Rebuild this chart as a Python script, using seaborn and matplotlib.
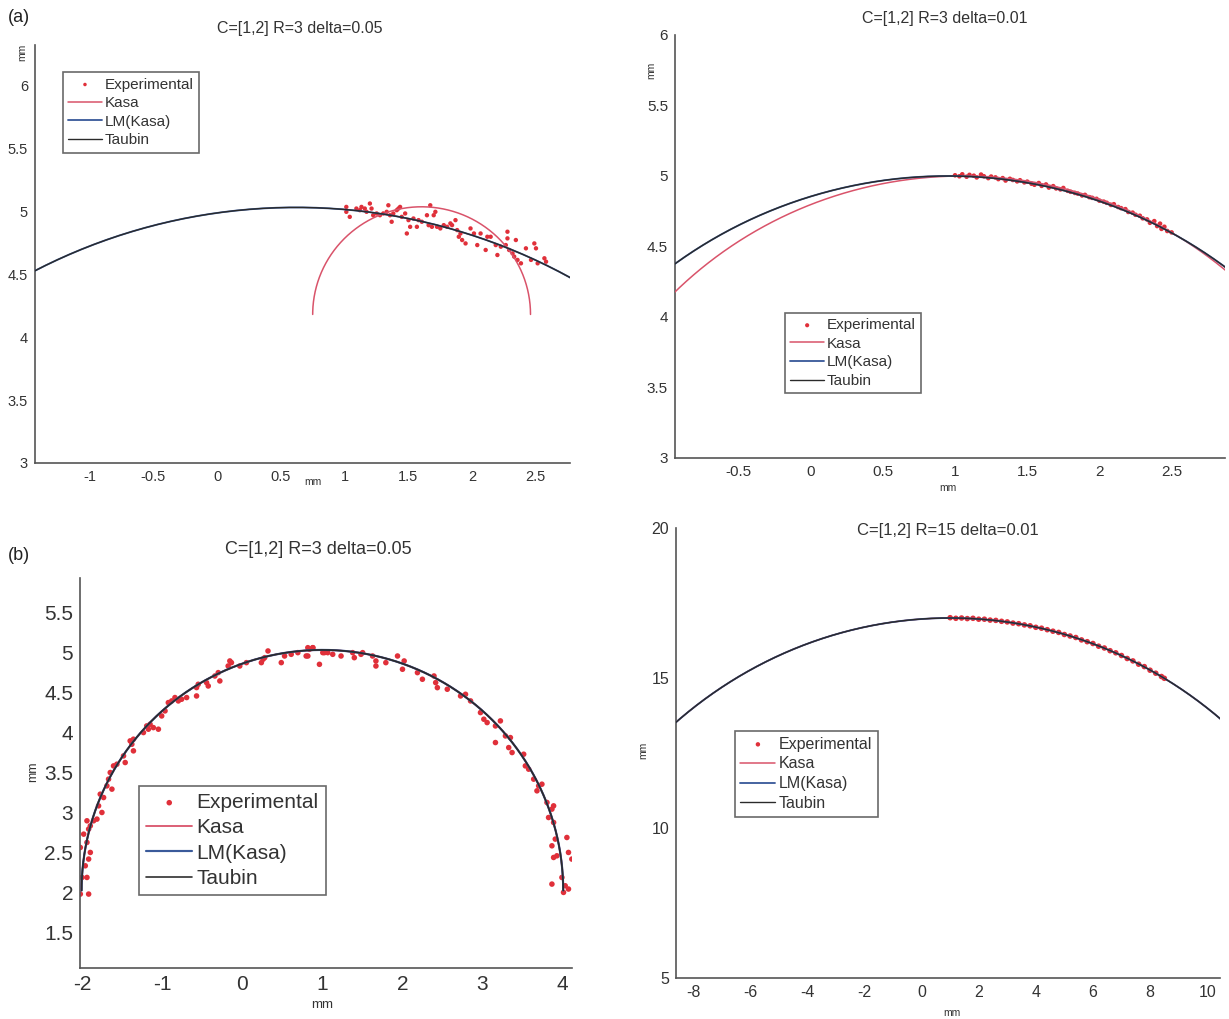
import numpy as np
import pandas as pd
import matplotlib
matplotlib.use("Agg")
import matplotlib.pyplot as plt
from matplotlib.ticker import FormatStrFormatter
import seaborn as sns

# ---------------- data ----------------
TITLES = ["C=[1,2] R=3 delta=0.05", "C=[1,2] R=3 delta=0.01",
          "C=[1,2] R=3 delta=0.05", "C=[1,2] R=15 delta=0.01"]
SERIES = ["Experimental", "Kasa", "LM(Kasa)", "Taubin"]

# panel (a) left: experimental points
p1_x = [1.014, 1.014, 1.041, 1.093, 1.120, 1.133, 1.159, 1.173, 1.199, 1.212, 1.225, 1.252,
        1.278, 1.304, 1.331, 1.344, 1.357, 1.370, 1.383, 1.410, 1.423, 1.436, 1.449, 1.476,
        1.489, 1.502, 1.515, 1.541, 1.568, 1.581, 1.607, 1.647, 1.660, 1.673, 1.686, 1.700,
        1.713, 1.726, 1.752, 1.779, 1.805, 1.831, 1.844, 1.871, 1.884, 1.897, 1.910, 1.923,
        1.950, 1.989, 2.016, 2.042, 2.068, 2.108, 2.121, 2.147, 2.187, 2.200, 2.227, 2.266,
        2.279, 2.279, 2.292, 2.319, 2.332, 2.345, 2.358, 2.385, 2.424, 2.464, 2.490, 2.503,
        2.516, 2.569, 2.582]
p1_y = [5.034, 4.995, 4.955, 5.021, 5.008, 5.034, 5.021, 4.995, 5.061, 5.021, 4.968, 4.982,
        4.968, 4.982, 4.995, 5.047, 4.968, 4.916, 4.982, 5.008, 5.021, 5.034, 4.955, 4.982,
        4.823, 4.929, 4.876, 4.942, 4.876, 4.929, 4.916, 4.968, 4.889, 5.047, 4.876, 4.968,
        4.995, 4.876, 4.863, 4.889, 4.876, 4.903, 4.889, 4.929, 4.850, 4.797, 4.823, 4.771,
        4.744, 4.863, 4.823, 4.731, 4.823, 4.692, 4.797, 4.797, 4.731, 4.652, 4.718, 4.731,
        4.837, 4.784, 4.692, 4.665, 4.639, 4.771, 4.613, 4.586, 4.705, 4.613, 4.744, 4.705,
        4.586, 4.626, 4.599]

# panel (a) right
p2_x = [1.00, 1.03, 1.05, 1.08, 1.10, 1.13, 1.15, 1.18, 1.20, 1.23, 1.25, 1.28, 1.30, 1.33,
        1.35, 1.38, 1.40, 1.43, 1.45, 1.48, 1.50, 1.53, 1.55, 1.58, 1.60, 1.63, 1.65, 1.68,
        1.70, 1.73, 1.75, 1.78, 1.80, 1.83, 1.85, 1.88, 1.90, 1.93, 1.95, 1.98, 2.00, 2.03,
        2.05, 2.08, 2.10, 2.13, 2.15, 2.18, 2.20, 2.23, 2.25, 2.28, 2.30, 2.33, 2.35, 2.38,
        2.40, 2.42, 2.43, 2.45, 2.47, 2.50]
p2_y = [5.005, 4.998, 5.012, 4.995, 5.008, 5.002, 4.990, 5.010, 4.998, 4.985, 4.996, 4.990,
        4.978, 4.985, 4.968, 4.980, 4.972, 4.962, 4.970, 4.955, 4.960, 4.945, 4.938, 4.950,
        4.930, 4.940, 4.918, 4.928, 4.912, 4.905, 4.915, 4.895, 4.888, 4.880, 4.875, 4.862,
        4.866, 4.850, 4.845, 4.838, 4.825, 4.818, 4.810, 4.795, 4.800, 4.780, 4.772, 4.765,
        4.745, 4.740, 4.725, 4.718, 4.700, 4.692, 4.668, 4.680, 4.645, 4.662, 4.625, 4.640,
        4.610, 4.600]

# panel (b) left
p3_x = [-2.026, -1.922, -2.005, -1.943, -1.964, -1.922, -1.901, -2.026, -1.943, -1.984,
        -1.922, -1.901, -1.860, -1.818, -1.943, -1.756, -1.798, -1.777, -1.735, -1.694,
        -1.673, -1.631, -1.652, -1.611, -1.569, -1.465, -1.486, -1.382, -1.403, -1.362,
        -1.362, -1.237, -1.196, -1.154, -1.175, -1.113, -1.050, -1.009, -0.967, -0.926,
        -0.884, -0.843, -0.801, -0.760, -0.697, -0.573, -0.552, -0.573, -0.427, -0.448,
        -0.344, -0.302, -0.282, -0.178, -0.137, -0.157, -0.033, 0.050, 0.237, 0.258,
        0.278, 0.320, 0.486, 0.527, 0.610, 0.693, 0.797, 0.838, 0.880, 0.963, 1.005, 1.067,
        0.818, 0.880, 0.818, 1.025, 1.129, 1.233, 1.378, 1.399, 1.482, 1.503, 1.627, 1.669,
        1.669, 1.793, 1.939, 2.022, 2.001, 2.188, 2.250, 2.395, 2.416, 2.437, 2.561, 2.727,
        2.789, 2.852, 2.976, 3.018, 3.059, 3.163, 3.225, 3.288, 3.163, 3.350, 3.329, 3.371,
        3.516, 3.537, 3.578, 3.641, 3.703, 3.682, 3.744, 3.807, 3.869, 3.890, 3.827, 3.890,
        3.911, 3.869, 4.056, 3.931, 3.890, 4.076, 4.118, 3.994, 4.035, 3.869, 4.076, 4.014]
p3_y = [1.975, 1.975, 2.183, 2.183, 2.329, 2.413, 2.496, 2.558, 2.621, 2.725,
        2.788, 2.829, 2.892, 2.913, 2.892, 2.996, 3.079, 3.225, 3.183, 3.329,
        3.413, 3.288, 3.496, 3.579, 3.600, 3.621, 3.704, 3.850, 3.892, 3.913,
        3.767, 3.996, 4.079, 4.100, 4.038, 4.058, 4.038, 4.204, 4.267, 4.371,
        4.392, 4.434, 4.392, 4.413, 4.434, 4.559, 4.600, 4.454, 4.579, 4.621,
        4.704, 4.746, 4.642, 4.829, 4.871, 4.892, 4.829, 4.871, 4.871, 4.913,
        4.933, 5.017, 4.871, 4.954, 4.975, 4.996, 4.954, 5.038, 5.058, 4.850, 4.996, 4.996,
        5.058, 5.058, 4.954, 4.996, 4.975, 4.954, 4.996, 4.933, 4.975, 4.996, 4.954, 4.892,
        4.829, 4.871, 4.954, 4.892, 4.788, 4.746, 4.663, 4.704, 4.621, 4.558, 4.538, 4.454,
        4.475, 4.392, 4.246, 4.163, 4.121, 4.079, 4.142, 3.954, 3.871, 3.933, 3.808, 3.746,
        3.725, 3.579, 3.538, 3.413, 3.329, 3.267, 3.350, 3.121, 3.038, 3.079, 2.933, 2.871,
        2.663, 2.579, 2.683, 2.454, 2.433, 2.496, 2.413, 2.183, 2.079, 2.100, 2.038, 1.996]

# panel (b) right
p4_x = [1.0, 1.2, 1.4, 1.6, 1.8, 2.0, 2.2, 2.4, 2.6, 2.8, 3.0, 3.2, 3.4, 3.6, 3.8, 4.0,
        4.2, 4.4, 4.6, 4.8, 5.0, 5.2, 5.4, 5.6, 5.8, 6.0, 6.2, 6.4, 6.6, 6.8, 7.0, 7.2,
        7.4, 7.6, 7.8, 8.0, 8.2, 8.4, 8.5]
p4_y = [17.01, 16.99, 17.00, 16.98, 16.99, 16.96, 16.96, 16.93, 16.92, 16.89, 16.87, 16.83,
        16.81, 16.77, 16.74, 16.69, 16.66, 16.61, 16.56, 16.52, 16.45, 16.40, 16.35, 16.27,
        16.21, 16.15, 16.06, 16.00, 15.91, 15.84, 15.75, 15.65, 15.57, 15.46, 15.38, 15.26,
        15.16, 15.05, 14.99]

# fitted circles per panel: (centre x, centre y, radius) for Kasa, LM(Kasa), Taubin
p1_fits = [(1.605, 4.18, 0.855), (0.62, 0.60, 4.43), (0.62, 0.60, 4.43)]
p2_fits = [(1.05, 2.18, 2.82), (0.95, 1.82, 3.18), (0.95, 1.82, 3.18)]
p3_fits = [(1.00, 2.02, 3.01), (1.00, 2.02, 3.01), (1.00, 2.02, 3.01)]
p4_fits = [(1.00, 2.00, 15.0), (1.00, 2.00, 15.0), (1.00, 2.00, 15.0)]

# ---------------- style ----------------
sns.set_theme(style="white")
plt.rcParams["font.family"] = ["Liberation Sans Narrow", "Liberation Sans", "DejaVu Sans"]
plt.rcParams["axes.unicode_minus"] = False

RED = "#e0303a"
KASA = "#d9536a"
LM = "#3a5a9a"
TAUB = "#2a2a2a"
AXC = "#555555"
TXT = "#333333"

W, H = 1229, 1019
fig = plt.figure(figsize=(W / 100, H / 100), dpi=100)
fig.patch.set_facecolor("white")


def add_ax(l, t, r, b):
    return fig.add_axes([l / W, 1 - b / H, (r - l) / W, (b - t) / H])


def arc(c):
    cx, cy, r = c
    th = np.linspace(0, np.pi, 400)
    return pd.DataFrame({"x": cx + r * np.cos(th), "y": cy + r * np.sin(th)})


def panel(ax, xs, ys, fits, xlim, ylim, xticks, yticks, tfs, ms, lfs, leg_anchor,
          lw=1.1, mscale=1.0):
    df = pd.DataFrame({"x": xs, "y": ys})
    sns.scatterplot(data=df, x="x", y="y", ax=ax, color=RED, s=ms, edgecolor="none",
                    label=SERIES[0], zorder=2)
    for fit, col, name, w in zip(fits, [KASA, LM, TAUB], SERIES[1:], [lw, lw * 1.2, lw * 0.9]):
        sns.lineplot(data=arc(fit), x="x", y="y", ax=ax, sort=False, estimator=None,
                     color=col, lw=w, label=name, zorder=3)
    ax.set_xlim(*xlim)
    ax.set_ylim(*ylim)
    ax.set_xticks(xticks)
    ax.set_yticks(yticks)
    ax.xaxis.set_major_formatter(FormatStrFormatter("%g"))
    ax.yaxis.set_major_formatter(FormatStrFormatter("%g"))
    ax.set_xlabel("")
    ax.set_ylabel("")
    for s in ["top", "right"]:
        ax.spines[s].set_visible(False)
    for s in ["left", "bottom"]:
        ax.spines[s].set_color(AXC)
        ax.spines[s].set_linewidth(1.2)
    ax.tick_params(direction="in", length=4, width=1, colors=AXC, labelcolor=TXT,
                   labelsize=tfs, pad=5)
    ax.set_facecolor("white")
    leg = ax.legend(loc="upper left", bbox_to_anchor=leg_anchor, fontsize=lfs, frameon=True,
                    fancybox=False, handlelength=2.2, handletextpad=0.2, borderpad=0.35,
                    labelspacing=0.3, markerscale=mscale, borderaxespad=0)
    leg.get_frame().set_edgecolor("#444444")
    leg.get_frame().set_linewidth(1.2)
    for t in leg.get_texts():
        t.set_color(TXT)
    return ax


ax1 = add_ax(35, 45, 570, 463)
panel(ax1, p1_x, p1_y, p1_fits, (-1.43, 2.77), (3, 6.32),
      [-1, -0.5, 0, 0.5, 1, 1.5, 2, 2.5], [3, 3.5, 4, 4.5, 5, 5.5, 6],
      10.5, 10, 11, (0.052, 0.935), mscale=0.8)

ax2 = add_ax(675, 35, 1225, 458)
panel(ax2, p2_x, p2_y, p2_fits, (-0.94, 2.87), (3, 6),
      [-0.5, 0, 0.5, 1, 1.5, 2, 2.5], [3, 3.5, 4, 4.5, 5, 5.5, 6],
      11, 11, 11, (0.2, 0.343), mscale=0.9)

ax3 = add_ax(80, 578, 572, 968)
panel(ax3, p3_x, p3_y, p3_fits, (-2.03, 4.12), (1.05, 5.93),
      [-2, -1, 0, 1, 2, 3, 4], [1.5, 2, 2.5, 3, 3.5, 4, 4.5, 5, 5.5],
      15, 16, 15, (0.12, 0.467), lw=1.3)

ax4 = add_ax(676, 528, 1220, 978)
panel(ax4, p4_x, p4_y, p4_fits, (-8.6, 10.45), (5, 20),
      [-8, -6, -4, -2, 0, 2, 4, 6, 8, 10], [5, 10, 15, 20],
      11.5, 16, 11.5, (0.108, 0.549), mscale=0.8)

# titles, panel tags and axis labels
fig.text(300 / W, 1 - 28 / H, TITLES[0], ha="center", va="center", fontsize=11.5, color=TXT)
fig.text(945 / W, 1 - 18 / H, TITLES[1], ha="center", va="center", fontsize=11.5, color=TXT)
fig.text(318 / W, 1 - 549 / H, TITLES[2], ha="center", va="center", fontsize=13, color=TXT)
fig.text(948 / W, 1 - 531 / H, TITLES[3], ha="center", va="center", fontsize=12, color=TXT)
fig.text(8 / W, 1 - 18 / H, "(a)", ha="left", va="center", fontsize=13,
         family=["Liberation Sans", "DejaVu Sans"], color="#222222")
fig.text(8 / W, 1 - 556 / H, "(b)", ha="left", va="center", fontsize=13,
         family=["Liberation Sans", "DejaVu Sans"], color="#222222")

fig.text(313 / W, 1 - 482 / H, "mm", ha="center", va="center", fontsize=7.5, color=TXT)
fig.text(22 / W, 1 - 52 / H, "mm", ha="center", va="center", fontsize=7.5, color=TXT, rotation=90)
fig.text(948 / W, 1 - 488 / H, "mm", ha="center", va="center", fontsize=7.5, color=TXT)
fig.text(651 / W, 1 - 70 / H, "mm", ha="center", va="center", fontsize=7.5, color=TXT, rotation=90)
fig.text(322 / W, 1 - 1005 / H, "mm", ha="center", va="center", fontsize=9.5, color=TXT)
fig.text(33 / W, 1 - 772 / H, "mm", ha="center", va="center", fontsize=9, color=TXT, rotation=90)
fig.text(952 / W, 1 - 1013 / H, "mm", ha="center", va="center", fontsize=7.5, color=TXT)
fig.text(643 / W, 1 - 750 / H, "mm", ha="center", va="center", fontsize=7.5, color=TXT, rotation=90)

fig.savefig("out.png", dpi=100, facecolor="white")
